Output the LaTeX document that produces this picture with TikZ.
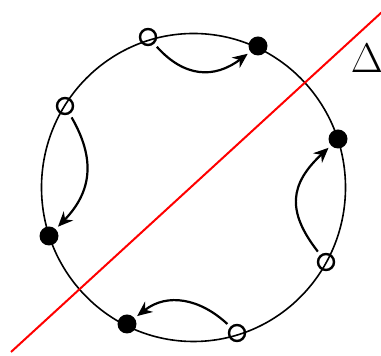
\documentclass[tikz,border=0pt]{standalone}
\usetikzlibrary{arrows.meta}
\begin{document}
\begin{tikzpicture}[x=0.5pt,y=0.5pt,
  filleddot/.style={circle,fill=black,inner sep=0pt,minimum size=9.5pt},
  opendot/.style={circle,draw=black,line width=1.2pt,inner sep=0pt,minimum size=8pt},
  move/.style={line width=1.1pt,looseness=1.1,-{Stealth[length=7.5pt,width=6.5pt,inset=2.4pt]},shorten <=2pt,shorten >=1.5pt}]
\useasboundingbox (0,0) rectangle (381,-356);
\draw[line width=0.8pt] (193.5,-187.5) ellipse [x radius=152, y radius=154];
\draw[red,line width=1pt] (11,-352) -- (382,-12);
\node (o1) [opendot] at (148,-37) {};
\node (f1) [filleddot] at (258,-46) {};
\node (o2) [opendot] at (65,-106) {};
\node (f2) [filleddot] at (49,-236) {};
\node (o3) [opendot] at (326,-262) {};
\node (f3) [filleddot] at (338,-139) {};
\node (o4) [opendot] at (237,-333) {};
\node (f4) [filleddot] at (127,-324) {};
\node (delta) at (367,-58) {\fontsize{20}{24}\selectfont$\Delta$};
\draw[move,looseness=1.2] (o1) to[out=-48,in=-143] (f1);
\draw[move,looseness=1.15] (o2) to[out=-60,in=46] (f2);
\draw[move,looseness=1.3] (o3) to[out=128,in=-137] (f3);
\draw[move] (o4) to[out=137,in=38] (f4);
\end{tikzpicture}
\end{document}
